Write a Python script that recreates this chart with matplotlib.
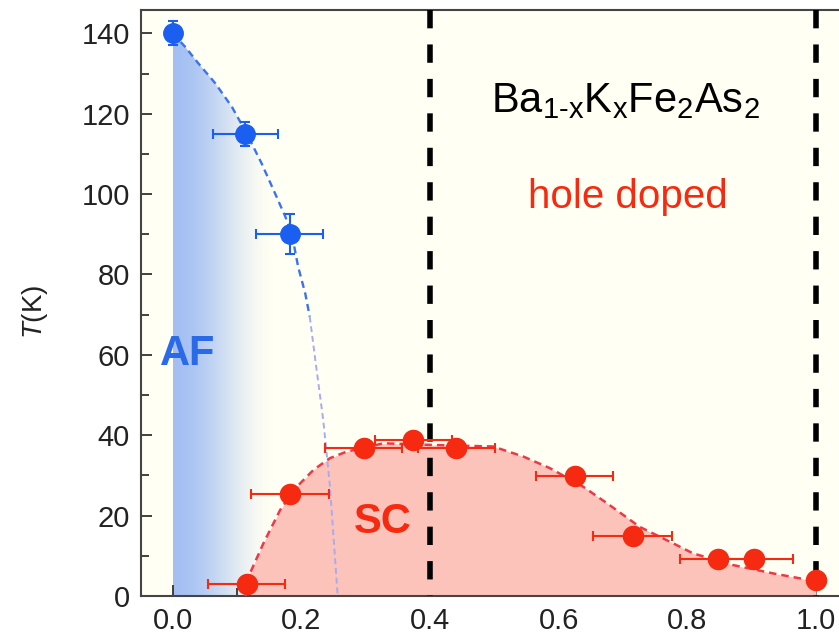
import numpy as np
import matplotlib
matplotlib.use("Agg")
import matplotlib.pyplot as plt
from matplotlib.patches import Polygon
from matplotlib.ticker import MultipleLocator, FormatStrFormatter

plt.rcParams["font.family"] = ["Liberation Sans", "DejaVu Sans"]
plt.rcParams["mathtext.fontset"] = "custom"
plt.rcParams["mathtext.rm"] = "Liberation Sans"
plt.rcParams["mathtext.it"] = "Liberation Sans:italic"

# Antiferromagnetic transition (blue)
af_x = [0.0, 0.113, 0.182]
af_T = [140, 115, 90]
af_xerr = [0.0, 0.050, 0.052]
af_Terr = [3, 3, 5]

# guide line for T_N, upper (blue) and lower (faded) parts
af_line_x = [0.0, 0.019, 0.040, 0.066, 0.092, 0.115, 0.138, 0.159, 0.175,
             0.185, 0.195, 0.206, 0.213]
af_line_T = [140, 136.7, 132.5, 127.6, 121.7, 115.1, 107.7, 100.2, 94.4,
             90.2, 81.9, 75.3, 69.5]
af_tail_x = [0.213, 0.2235, 0.234, 0.2445, 0.2565]
af_tail_T = [69.5, 56.5, 43.8, 27.2, 0]

# Superconducting transition (red)
sc_x = [0.115, 0.182, 0.297, 0.374, 0.441, 0.625, 0.715, 0.848, 0.903, 1.0]
sc_T = [3.0, 25.5, 36.8, 38.7, 36.9, 29.9, 15.0, 9.2, 9.1, 4.0]
sc_xerr = [0.060, 0.061, 0.060, 0.060, 0.060, 0.060, 0.061, 0.060, 0.062, 0.0]

# guide line for T_c (dome)
sc_line_x = [0.113, 0.120, 0.141, 0.167, 0.193, 0.219, 0.2445, 0.27, 0.3276,
             0.40, 0.498, 0.545, 0.5865, 0.638, 0.675, 0.726, 0.778, 0.809,
             0.871, 0.934, 0.975, 1.0]
sc_line_T = [0.0, 5.6, 13.1, 21.4, 27.2, 31.4, 34.3, 35.9, 38.0,
             37.6, 37.2, 34.7, 31.8, 27.2, 23.1, 17.2, 13.1, 10.6,
             7.7, 5.6, 4.4, 3.5]

boundaries = [0.4, 1.0]

XMIN, XMAX = -0.0493, 1.0358
TMAX = 145.8

blue = "#1a5ff0"
red = "#f52a10"

fig = plt.figure(figsize=(8.39, 6.40), dpi=100)
ax = fig.add_axes([141 / 839, 44 / 640, 698 / 839, 586 / 640])
ax.set_facecolor("#fffff3")
ax.set_xlim(XMIN, XMAX)
ax.set_ylim(0, TMAX)

# AF region: smooth horizontal fade from the x=0 edge, clipped under the T_N line
grad_x = np.linspace(0, 0.26, 400)
t = np.clip(grad_x / 0.16, 0, 1)
alpha = 1 - (3 * t**2 - 2 * t**3)
rgba = np.zeros((1, grad_x.size, 4))
rgba[..., 0], rgba[..., 1], rgba[..., 2] = 0.64, 0.75, 0.95
rgba[..., 3] = alpha
im = ax.imshow(rgba, extent=[0, 0.26, 0, 140], aspect="auto", origin="lower",
               interpolation="bilinear", zorder=1)
clip = Polygon(list(zip(af_line_x + af_tail_x, af_line_T + af_tail_T)) + [(0, 0)],
               closed=True, transform=ax.transData, facecolor="none", edgecolor="none")
ax.add_patch(clip)
im.set_clip_path(clip)

# SC dome
ax.fill_between(sc_line_x, sc_line_T, 0, color="#fcc3ba", lw=0, zorder=2)
ax.plot(sc_line_x, sc_line_T, color="#ee3848", lw=1.8, dashes=(3, 2), zorder=3)

ax.plot(af_line_x, af_line_T, color="#3a72f0", lw=1.7, dashes=(3, 2), zorder=3)
ax.plot(af_tail_x, af_tail_T, color="#a8aaf2", lw=1.4, dashes=(3, 2), zorder=3)

for xb in boundaries:
    ax.plot([xb, xb], [TMAX, 0], color="black", lw=4, dashes=(3.3, 2.9),
            solid_capstyle="butt", zorder=4)

ax.errorbar(sc_x, sc_T, xerr=sc_xerr, fmt="o", color=red, ms=14.5,
            elinewidth=1.5, capsize=3.5, capthick=1.5, zorder=5)
ax.errorbar(af_x, af_T, xerr=af_xerr, yerr=af_Terr, fmt="o", color=blue, ms=14,
            elinewidth=1.5, capsize=3.5, capthick=1.5, zorder=5)

ax.text(0.704, 120.4, r"Ba$_{\mathrm{1\text{-}x}}$K$_{\mathrm{x}}$Fe$_2$As$_2$",
        fontsize=30, ha="center", va="baseline", color="black", zorder=6)
ax.text(0.707, 96.5, "hole doped", fontsize=29, ha="center", va="baseline",
        color=red, zorder=6)
ax.text(0.024, 57.5, "AF", fontsize=30, fontweight="bold", ha="center",
        va="baseline", color="#2a6ae8", zorder=6)
ax.text(0.326, 15.7, "SC", fontsize=30, fontweight="bold", ha="center",
        va="baseline", color=red, zorder=6)

ax.xaxis.set_major_locator(MultipleLocator(0.2))
ax.xaxis.set_minor_locator(MultipleLocator(0.1))
ax.yaxis.set_major_locator(MultipleLocator(20))
ax.yaxis.set_minor_locator(MultipleLocator(10))
ax.xaxis.set_major_formatter(FormatStrFormatter("%.1f"))
ax.tick_params(which="both", direction="in", color="#333333", width=1.3,
               labelsize=21, labelcolor="#222222", pad=8, top=False, right=False)
ax.tick_params(which="major", length=8)
ax.tick_params(which="minor", length=6)

for side in ["left", "bottom", "top"]:
    ax.spines[side].set_color("#444444")
    ax.spines[side].set_linewidth(1.5)
ax.spines["right"].set_visible(False)

ax.set_ylabel(r"$T$(K)", fontsize=20, color="#222222")
ax.yaxis.set_label_coords(-0.13, 0.485)

fig.savefig("out.png", dpi=100)
